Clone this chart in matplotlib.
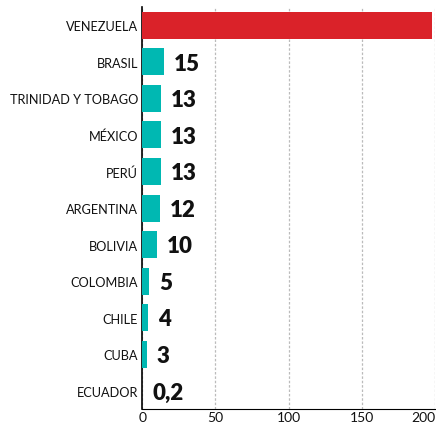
import matplotlib
matplotlib.use("Agg")
import matplotlib.pyplot as plt

# datos
paises = ["VENEZUELA", "BRASIL", "TRINIDAD Y TOBAGO", "MÉXICO", "PERÚ",
          "ARGENTINA", "BOLIVIA", "COLOMBIA", "CHILE", "CUBA", "ECUADOR"]
valores = [198, 15, 13, 13, 13, 12, 10, 5, 4, 3, 0.2]
etiquetas = ["", "15", "13", "13", "13", "12", "10", "5", "4", "3", "0,2"]
colores = ["#DA2229"] + ["#00B8B2"] * 10
ticks_x = [0, 50, 100, 150, 200]

fuente = "Lato"

fig = plt.figure(figsize=(4.36, 4.27), dpi=100)
ax = fig.add_axes([0.326, 0.040, 0.672, 0.941])

pos = list(range(len(paises)))
ax.barh(pos, valores, height=0.74, color=colores, zorder=3)
ax.set_yticks(pos)
ax.set_yticklabels(paises, fontsize=9.2, family=fuente, color="#111111")
ax.set_ylim(len(paises) - 0.5, -0.5)

ax.set_xlim(0, 200)
ax.set_xticks(ticks_x)
ax.set_xticklabels([str(t) for t in ticks_x], fontsize=10, family=fuente,
                   color="#111111")
ax.get_xticklabels()[-1].set_ha("right")
ax.tick_params(axis="y", length=0, pad=3)
ax.tick_params(axis="x", length=0, pad=1.5)

ax.grid(axis="x", color="#BBBBBB", linestyle=(0, (2, 1.5)), linewidth=0.9, zorder=0)
ax.spines["top"].set_visible(False)
ax.spines["right"].set_visible(False)
ax.spines["left"].set_linewidth(1.2)
ax.spines["bottom"].set_linewidth(0.8)

for i, (v, txt) in enumerate(zip(valores, etiquetas)):
    if txt:
        ax.annotate(txt, (v, i), xytext=(7, -1), textcoords="offset points",
                    ha="left", va="center", fontsize=16, fontweight="heavy",
                    family=fuente, color="#111111")

plt.savefig("out.png", dpi=100)
